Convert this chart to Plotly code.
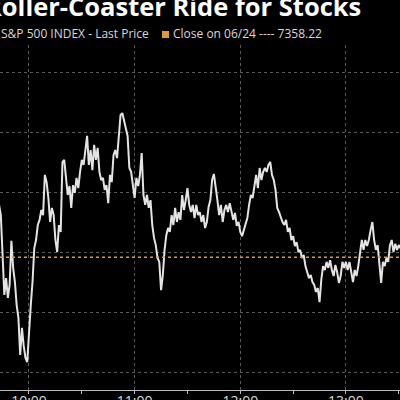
import pandas as pd
import plotly.graph_objects as go

title = "Roller-Coaster Ride for Stocks"
series_name = "S&P 500 INDEX - Last Price"
close_label = "Close on 06/24 ---- 7358.22"
close_value = 7358.22
start_time = "2025-06-25 09:40"
tick_labels = ["10:00", "11:00", "12:00", "13:00"]

prices = [
    7375, 7373, 7376, 7375.7, 7372.3, 7355.7, 7345.7, 7351.3, 7344.7, 7349,
    7363.7, 7354.7, 7350, 7342.3, 7338, 7325.7, 7334.7, 7328.7, 7324.7, 7323.3,
    7334, 7342.3, 7350, 7361.3, 7364, 7369, 7370.7, 7374, 7372.3, 7385.7,
    7383.3, 7378, 7370, 7374.7, 7372.3, 7364, 7360, 7369, 7366.7, 7390,
    7390.7, 7384.7, 7379, 7382, 7374.7, 7382.3, 7379.7, 7384.7, 7381.3, 7386.7,
    7390.7, 7389, 7393.3, 7398.7, 7389, 7394, 7387.3, 7395.7, 7390.7, 7394.7,
    7386.7, 7384, 7384.7, 7380.7, 7382.3, 7376.3, 7385.7, 7383.3, 7392.3, 7394,
    7391.3, 7398, 7405.7, 7406.3, 7404, 7400.7, 7398.7, 7388, 7386.7, 7382.3,
    7378, 7384.7, 7382, 7385.7, 7393, 7379, 7375.7, 7379, 7374.7, 7377.3,
    7369, 7364.7, 7362.3, 7358, 7356.7, 7347.3, 7352.3, 7360.7, 7365.7, 7368,
    7366.7, 7372.3, 7369, 7374.7, 7370, 7373.3, 7370.7, 7379, 7374, 7377.3,
    7381.3, 7375.7, 7373.3, 7375.7, 7371.3, 7375.7, 7372.3, 7373.3, 7370, 7372.3,
    7368, 7370, 7375, 7377.3, 7384, 7386, 7382.3, 7377.3, 7372.3, 7375.7,
    7370, 7374, 7375.7, 7373.3, 7376.3, 7373.3, 7370.7, 7373, 7368.7, 7370,
    7366.7, 7365.3, 7367.3, 7369, 7371.3, 7375.7, 7379, 7378, 7382.3, 7385.7,
    7381.3, 7388, 7384, 7386.7, 7388, 7386.7, 7389, 7390, 7385.7, 7384,
    7380.7, 7374.7, 7373.3, 7371.3, 7370, 7369, 7370.7, 7366.7, 7368, 7364,
    7365.3, 7362, 7363.3, 7360, 7360.7, 7358, 7359, 7355.3, 7353.3, 7351.3,
    7352.3, 7350, 7349, 7346.7, 7348, 7343.3, 7350.7, 7355.3, 7354, 7356.7,
    7354.7, 7357.3, 7354, 7352, 7355.7, 7353.3, 7349.7, 7352, 7356.7, 7354.7,
    7356.7, 7354, 7356.7, 7353.3, 7350, 7354, 7352, 7355.3, 7360.7, 7364,
    7360.7, 7364, 7362, 7364, 7367.3, 7370, 7364, 7360.7, 7362.3, 7356.7,
    7349.7, 7356.7, 7355.3, 7358, 7356.7, 7362.3, 7364, 7360, 7362.7, 7360.7,
    7362.3, 7361.3, 7362, 7361,
]

times = pd.date_range(start=start_time, periods=len(prices), freq="min")

fig = go.Figure()
fig.add_trace(go.Scatter(
    x=times, y=prices, mode="lines",
    line=dict(color="#e4e4e4", width=2),
    name=series_name, showlegend=False,
))

fig.add_shape(type="line", xref="paper", yref="y", x0=0, x1=1,
              y0=close_value, y1=close_value,
              line=dict(color="#e09a38", width=1.5, dash="dot"))

tickvals = [pd.Timestamp("2025-06-25 " + t) for t in tick_labels]

fig.update_layout(
    width=400, height=400,
    paper_bgcolor="black", plot_bgcolor="black",
    margin=dict(l=0, r=0, t=45, b=10),
    showlegend=False,
    xaxis=dict(
        type="date",
        range=["2025-06-25 09:43:32", "2025-06-25 13:30:42"],
        tickvals=tickvals, ticktext=tick_labels,
        showgrid=True, gridcolor="#5a5a5a", griddash="dot", gridwidth=1,
        showline=True, linecolor="#bbbbbb", linewidth=1,
        ticks="outside", ticklen=3, tickcolor="#bbbbbb",
        minor=dict(dtick=1800000, ticks="outside", ticklen=3, tickcolor="#bbbbbb", showgrid=False),
        tickfont=dict(color="#d8d8d8", size=14, family="Open Sans"),
        ticklabelstandoff=-5,
        zeroline=False, automargin=False,
    ),
    yaxis=dict(
        range=[7314, 7429],
        tick0=7320, dtick=20,
        showgrid=True, gridcolor="#5a5a5a", griddash="dot", gridwidth=1,
        showticklabels=False, zeroline=False, showline=False, ticks="",
        automargin=False,
    ),
)

fig.add_annotation(
    text="<b>" + title + "</b>", xref="paper", yref="paper",
    x=-0.0435, y=1.113, xanchor="left", yanchor="middle", showarrow=False,
    font=dict(color="white", size=25.5, family="Open Sans"),
)
fig.add_annotation(
    text=series_name, xref="paper", yref="paper",
    x=-0.003, y=1.032, xanchor="left", yanchor="middle", showarrow=False,
    font=dict(color="#d8d8d8", size=12, family="Open Sans"),
)
fig.add_shape(type="rect", xref="paper", yref="paper",
              x0=0.405, x1=0.4225, y0=1.0203, y1=1.0406,
              fillcolor="#e09a38", line=dict(width=0))
fig.add_annotation(
    text=close_label, xref="paper", yref="paper",
    x=0.428, y=1.032, xanchor="left", yanchor="middle", showarrow=False,
    font=dict(color="#d8d8d8", size=12, family="Open Sans"),
)

fig.write_html("out.html")
